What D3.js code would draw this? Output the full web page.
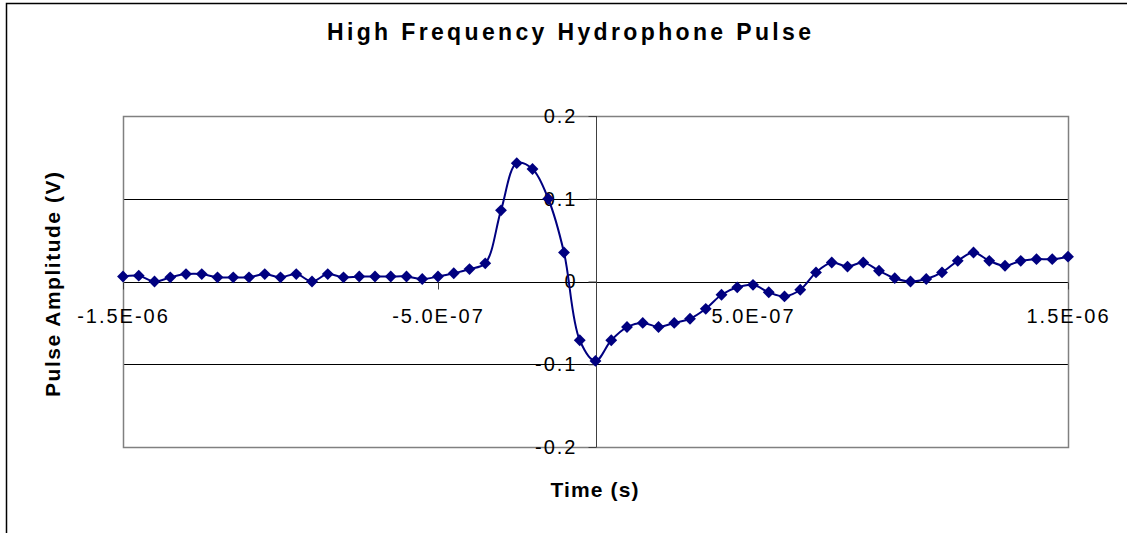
<!DOCTYPE html>
<html>
<head>
<meta charset="utf-8">
<script src="https://d3js.org/d3.v7.min.js"></script>
<style>
body { margin: 0; background: #fff; }
text { font-family: Arial, "Liberation Sans", sans-serif; }
</style>
</head>
<body>
<script>
//Size of the window
var W = 1127, H = 533;

//Time samples in nanoseconds (one sample every 50 ns)
var timeNs = [-1500, -1450, -1400, -1350, -1300, -1250, -1200, -1150, -1100, -1050,
	-1000, -950, -900, -850, -800, -750, -700, -650, -600, -550,
	-500, -450, -400, -350, -300, -250, -200, -150, -100, -50,
	0, 50, 100, 150, 200, 250, 300, 350, 400, 450,
	500, 550, 600, 650, 700, 750, 800, 850, 900, 950,
	1000, 1050, 1100, 1150, 1200, 1250, 1300, 1350, 1400, 1450, 1500];

//Pulse amplitude in volts
var amplitude = [0.006, 0.007, 0.000, 0.005, 0.009, 0.009, 0.005, 0.005, 0.005, 0.009,
	0.005, 0.009, 0.000, 0.009, 0.005, 0.006, 0.006, 0.006, 0.006, 0.003,
	0.006, 0.010, 0.015, 0.022, 0.086, 0.143, 0.136, 0.100, 0.035, -0.071,
	-0.096, -0.071, -0.055, -0.050, -0.055, -0.050, -0.045, -0.033, -0.016, -0.007,
	-0.004, -0.013, -0.018, -0.010, 0.011, 0.023, 0.018, 0.023, 0.013, 0.004,
	0.000, 0.003, 0.011, 0.025, 0.035, 0.025, 0.019, 0.025, 0.027, 0.027, 0.030];

//Axis ticks and their labels
var xTicks = [-1.5e-6, -5e-7, 5e-7, 1.5e-6];
var xTickLabels = ["-1.5E-06", "-5.0E-07", "5.0E-07", "1.5E-06"];
var yTicks = [0.2, 0.1, 0, -0.1, -0.2];
var yTickLabels = ["0.2", "0.1", "0", "-0.1", "-0.2"];

var data = timeNs.map(function(t, i){ return {t: t * 1e-9, v: amplitude[i]}; });

var svg = d3.select("body")
	.append("svg")
	.attr("width", W)
	.attr("height", H);

//Outer chart frame, it runs off the right and bottom of the picture
svg.append("rect")
	.attr("x", 6.5).attr("y", 3.5)
	.attr("width", 1300).attr("height", 700)
	.style("fill", "white")
	.style("stroke", "black")
	.style("stroke-width", 1.5);

var x = d3.scaleLinear().domain([-1.5e-6, 1.5e-6]).range([123, 1068]);
var y = d3.scaleLinear().domain([-0.2, 0.2]).range([447, 116]);

//Horizontal gridlines
svg.append("g").selectAll("line")
	.data(yTicks)
	.enter().append("line")
	.attr("x1", x.range()[0]).attr("x2", x.range()[1])
	.attr("y1", function(d){ return Math.round(y(d)) + 0.5; })
	.attr("y2", function(d){ return Math.round(y(d)) + 0.5; })
	.style("stroke", "black")
	.style("stroke-width", 1);

//Plot area border
svg.append("rect")
	.attr("x", x.range()[0] + 0.5).attr("y", Math.round(y(0.2)) + 0.5)
	.attr("width", x.range()[1] - x.range()[0])
	.attr("height", Math.round(y(-0.2)) - Math.round(y(0.2)))
	.style("fill", "none")
	.style("stroke", "#808080")
	.style("stroke-width", 1.5);

//X axis sits on y = 0
var xAxis = svg.append("g")
	.attr("transform", "translate(0," + (Math.round(y(0)) + 0.5) + ")")
	.call(d3.axisBottom(x)
		.tickValues(xTicks)
		.tickSize(7)
		.tickPadding(19)
		.tickFormat(function(d, i){ return xTickLabels[i]; }));

//Y axis sits on x = 0
var yAxis = svg.append("g")
	.attr("transform", "translate(" + (Math.round(x(0)) + 0.5) + ",0)")
	.call(d3.axisLeft(y)
		.tickValues(yTicks)
		.tickSize(8)
		.tickPadding(11)
		.tickFormat(function(d, i){ return yTickLabels[i]; }));

[xAxis, yAxis].forEach(function(a){
	a.select(".domain").remove();
	a.selectAll("line").style("stroke", "#404040").style("stroke-width", 1);
	a.selectAll("text")
		.style("font-family", "Arial, 'Liberation Sans', sans-serif")
		.style("font-size", "20px")
		.style("letter-spacing", "2px")
		.style("fill", "black");
});

svg.append("line")
	.attr("x1", Math.round(x(0)) + 0.5).attr("x2", Math.round(x(0)) + 0.5)
	.attr("y1", y(0.2)).attr("y2", y(-0.2))
	.style("stroke", "#404040")
	.style("stroke-width", 1);

//Smoothed pulse line
var line = d3.line()
	.x(function(d){ return x(d.t); })
	.y(function(d){ return y(d.v); })
	.curve(d3.curveCatmullRom);

svg.append("path")
	.datum(data)
	.attr("d", line)
	.style("fill", "none")
	.style("stroke", "#000080")
	.style("stroke-width", 2);

//Diamond markers
svg.append("g").selectAll("path")
	.data(data)
	.enter().append("path")
	.attr("d", d3.symbol().type(d3.symbolSquare).size(70))
	.attr("transform", function(d){ return "translate(" + x(d.t) + "," + y(d.v) + ") rotate(45)"; })
	.style("fill", "#000080");

//Titles
svg.append("text")
	.text("High Frequency Hydrophone Pulse")
	.attr("x", 569).attr("y", 40)
	.attr("text-anchor", "middle")
	.attr("font-size", "23px")
	.attr("font-weight", "bold")
	.attr("textLength", 484)
	.attr("lengthAdjust", "spacing");

svg.append("text")
	.text("Time (s)")
	.attr("x", 594.5).attr("y", 497)
	.attr("text-anchor", "middle")
	.attr("font-size", "21px")
	.attr("font-weight", "bold")
	.attr("textLength", 88)
	.attr("lengthAdjust", "spacing");

svg.append("text")
	.text("Pulse Amplitude (V)")
	.attr("transform", "translate(60,284.5) rotate(-90)")
	.attr("text-anchor", "middle")
	.attr("font-size", "21px")
	.attr("font-weight", "bold")
	.attr("textLength", 225)
	.attr("lengthAdjust", "spacing");
</script>
</body>
</html>
